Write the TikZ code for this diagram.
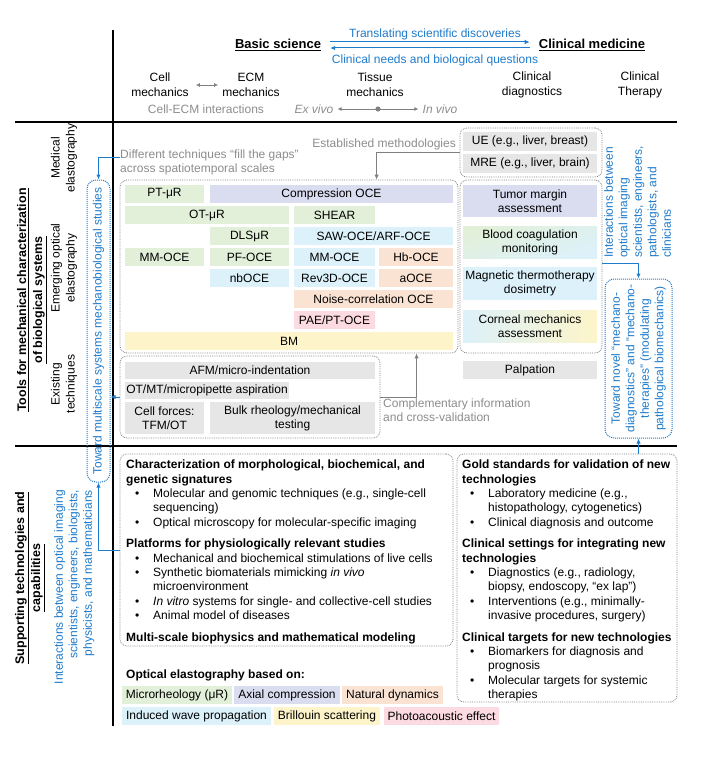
\documentclass[tikz,border=0pt]{standalone}
\usepackage{fontspec}
\setmainfont{Liberation Sans}
\usetikzlibrary{arrows.meta,calc}
\definecolor{cgreen}{HTML}{E2F0D9}
\definecolor{cpurple}{HTML}{DADCF0}
\definecolor{corange}{HTML}{FBE3D3}
\definecolor{cblue}{HTML}{DCF1FA}
\definecolor{cyellow}{HTML}{FDF5C9}
\definecolor{cpink}{HTML}{FBDAE2}
\definecolor{cgray}{HTML}{E6E6E6}
\definecolor{tblue}{HTML}{1F7BCB}
\definecolor{tgray}{HTML}{8C8C8C}
\definecolor{dgray}{HTML}{808080}
\newcommand\fs{\fontsize{12}{14}\selectfont}
\newcommand\cellnode[7]{\node[cellbox, fill=#6, minimum width={#4pt-#2pt}, minimum height={#5pt-#3pt}] (#1) at ({(#2+#4)/2},{(#3+#5)/2}) {#7};}
\newcommand\bl{\hspace*{9pt}\makebox[18pt][l]{•}}
\newcommand\cn{\hspace*{27pt}}
\newcommand\blr{\hspace*{8pt}\makebox[18pt][l]{•}}
\newcommand\cnr{\hspace*{26pt}}
\tikzset{
  every node/.style={font=\fs, inner sep=0pt},
  cellbox/.style={align=center, font=\fontsize{12}{14}\selectfont},
  lbl/.style={align=center, font=\fontsize{12}{15}\selectfont},
  hdr/.style={align=center, font=\fontsize{12.5}{16}\selectfont\bfseries},
  thdr/.style={font=\fontsize{13}{16}\selectfont\bfseries},
  btext/.style={text=tblue, align=center, font=\fontsize{12}{14.5}\selectfont},
  gtext/.style={text=tgray, align=left, font=\fontsize{12}{14}\selectfont},
  body/.style={align=left, font=\fontsize{12}{14.3}\selectfont},
  frame/.style={draw=dgray, densely dotted, line width=0.8pt, rounded corners=7pt},
  bframe/.style={draw=tblue, densely dotted, line width=1pt, rounded corners=9pt},
  barrow/.style={draw=tblue, line width=1pt, -{Latex[length=5pt,width=4.5pt]}},
  garrow/.style={draw=dgray, line width=1pt, -{Latex[length=5pt,width=4.5pt]}},
  gdarrow/.style={draw=dgray, line width=1pt, {Latex[length=4pt,width=4pt]}-{Latex[length=4pt,width=4pt]}},
}
\begin{document}
\begin{tikzpicture}[x=1pt,y=-1pt]
\useasboundingbox (0,0) rectangle (710,760);
% main rules
\draw[line width=1.2pt] (113,30) -- (113,726);
\draw[line width=1.2pt] (15,122) -- (677,122);
\draw[line width=1.2pt] (15,446) -- (677,446);
% header
\node[thdr] (basic) at (278,45) {\underline{Basic science}};
\node[thdr] (clinmed) at (592,45) {\underline{Clinical medicine}};
\draw[barrow] ([xshift=9pt,yshift=3pt]basic.east) -- ([xshift=-9pt,yshift=3pt]clinmed.west);
\draw[barrow] ([xshift=-9pt,yshift=-3pt]clinmed.west) -- ([xshift=9pt,yshift=-3pt]basic.east);
\node[btext] (transl) at (435,34) {Translating scientific discoveries};
\node[btext] (needs) at (435,60) {Clinical needs and biological questions};
\node[lbl] (cellm) at (160,85) {Cell\\mechanics};
\node[lbl] (ecm) at (251,85) {ECM\\mechanics};
\draw[gdarrow] ([xshift=7pt]cellm.east) -- ([xshift=-4pt]ecm.west);
\node[gtext] (cellecm) at (206,109) {Cell-ECM interactions};
\node[lbl] (tissue) at (375,85) {Tissue\\mechanics};
\node[gtext] (exvivo) at (314,109) {\textit{Ex vivo}};
\node[gtext] (invivo) at (440,109) {\textit{In vivo}};
\draw[gdarrow] ([xshift=4pt]exvivo.east) -- ([xshift=-4pt]invivo.west);
\fill[dgray] ($(exvivo.east)!0.5!(invivo.west)$) circle (2.6pt);
\node[lbl] (cdiag) at (532,85) {Clinical\\diagnostics};
\node[lbl] (cther) at (640,85) {Clinical\\Therapy};
% left labels
\node[hdr, rotate=90] (tools) at (32,300) {\underline{Tools for mechanical characterization}\\\underline{of biological systems}};
\node[lbl, rotate=90] (medel) at (64,158) {Medical\\elastography};
\node[lbl, rotate=90] (emel) at (64,268) {Emerging optical\\elastography};
\node[lbl, rotate=90] (exte) at (64,384) {Existing\\techniques};
\node[hdr, rotate=90] (supp) at (30,578) {\underline{Supporting technologies and}\\\underline{capabilities}};
\node[btext, rotate=90, align=right, anchor=north east] (interL) at (54,490) {Interactions between optical imaging\\scientists, engineers, biologists,\\physicists, and mathematicians};
% frames
\node[frame, minimum width=338pt, minimum height=173pt] (emerg) at (289,266.5) {};
\node[frame, minimum width=260pt, minimum height=82pt] (exist) at (250,397) {};
\node[frame, minimum width=142pt, minimum height=49pt] (uebox) at (531,152.5) {};
\node[frame, minimum width=142pt, minimum height=173pt] (clin) at (531,266.5) {};
\node[frame, minimum width=333pt, minimum height=192pt] (supL) at (286.5,550) {};
\node[frame, minimum width=220pt, minimum height=248pt] (gold) at (567,578) {};
% blue boxes
\node[bframe, rotate=90, minimum width=302pt, minimum height=23pt, text=tblue] (towardL) at (98.5,331) {Toward multiscale systems mechanobiological studies};
\node[bframe, rotate=90, minimum width=159pt, minimum height=67pt, align=center, text=tblue, font=\fontsize{12}{14.5}\selectfont] (novel) at (638.5,358.5) {Toward novel “mechano-\\diagnostics” and “mechano-\\therapies” (modulating\\pathological biomechanics)};
\node[btext, rotate=90, align=left, anchor=north west] (interR) at (604,258) {Interactions between\\optical imaging\\scientists, engineers,\\pathologists, and\\clinicians};
% gray texts
\node[gtext, anchor=east] (estab) at (456,144) {Established methodologies};
\node[gtext, anchor=north west] (diff) at (120,150) {Different techniques “fill the gaps”\\across spatiotemporal scales};
\node[gtext, anchor=north west] (compl) at (383,399) {Complementary information\\and cross-validation};
% emerging cells
\cellnode{ptur}{125}{185}{204}{203}{cgreen}{PT-μR}
\cellnode{comp}{210}{185}{453}{203}{cpurple}{Compression OCE}
\cellnode{otur}{125}{206}{289}{224}{cgreen}{OT-μR}
\cellnode{shear}{294}{206}{375}{224}{cgreen}{SHEAR}
\cellnode{dls}{210}{227}{289}{245}{cgreen}{DLSμR}
\cellnode{saw}{294}{227}{453}{245}{cblue}{SAW-OCE/ARF-OCE}
\cellnode{mmg}{125}{248}{204}{266}{cgreen}{MM-OCE}
\cellnode{pf}{210}{248}{289}{266}{cgreen}{PF-OCE}
\cellnode{mmb}{294}{248}{375}{266}{cblue}{MM-OCE}
\cellnode{hb}{379}{248}{453}{266}{corange}{Hb-OCE}
\cellnode{nb}{210}{269}{289}{287}{cblue}{nbOCE}
\cellnode{rev}{294}{269}{375}{287}{cblue}{Rev3D-OCE}
\cellnode{aoce}{379}{269}{453}{287}{corange}{aOCE}
\cellnode{noise}{294}{290}{453}{308}{corange}{Noise-correlation OCE}
\cellnode{pae}{294}{311}{375}{329}{cpink}{PAE/PT-OCE}
\cellnode{bm}{125}{332}{453}{350}{cyellow}{BM}
% existing cells
\cellnode{afm}{125}{362}{375}{379}{cgray}{AFM/micro-indentation}
\cellnode{otmt}{125}{382}{289}{399}{cgray}{OT/MT/micropipette aspiration}
\cellnode{cf}{125}{402}{204}{434}{cgray}{Cell forces:\\TFM/OT}
\cellnode{bulk}{210}{402}{375}{434}{cgray}{Bulk rheology/mechanical\\testing}
% clinical cells
\cellnode{ue}{463}{132}{597}{151}{cgray}{UE (e.g., liver, breast)}
\cellnode{mre}{463}{154}{597}{173}{cgray}{MRE (e.g., liver, brain)}
\cellnode{tumor}{463}{185}{597}{217}{cpurple}{Tumor margin\\assessment}
\node[cellbox, top color=cgreen, bottom color=cblue, shading angle=20, minimum width=134pt, minimum height=32pt] (blood) at (530,242) {Blood coagulation\\monitoring};
\cellnode{magn}{463}{267}{597}{300}{cblue}{Magnetic thermotherapy\\dosimetry}
\node[cellbox, left color=cblue, right color=cyellow, minimum width=134pt, minimum height=32pt] (corn) at (530,326) {Corneal mechanics\\assessment};
\cellnode{palp}{463}{361}{597}{379}{cgray}{Palpation}
% arrows
\draw[garrow] (uebox.west) -| ($(emerg.north west)+(257,0)$);
\draw[garrow] (exist.east) -| ($(emerg.south west)+(297,0)$);
\draw[barrow] ([yshift=-7pt]diff.north west) -| (towardL.east);
\draw[barrow] (exist.west) -- (exist.west -| towardL.south);
\draw[barrow] (supL.west) -| (towardL.west);
\draw[barrow] ([yshift=3pt]clin.east) -| (novel.east);
\draw[barrow] (gold.north -| novel.west) -- (novel.west);
% supporting texts
\node[body, anchor=north west] (suptext) at (126,460) {\textbf{Characterization of morphological, biochemical, and}\\
\textbf{genetic signatures}\\
\bl Molecular and genomic techniques (e.g., single-cell\\
\cn sequencing)\\
\bl Optical microscopy for molecular-specific imaging\\[7.5pt]
\textbf{Platforms for physiologically relevant studies}\\
\bl Mechanical and biochemical stimulations of live cells\\
\bl Synthetic biomaterials mimicking \textit{in vivo}\\
\cn microenvironment\\
\bl \textit{In vitro} systems for single- and collective-cell studies\\
\bl Animal model of diseases\\[7.5pt]
\textbf{Multi-scale biophysics and mathematical modeling}};
\node[body, anchor=north west] (goldtext) at (462,460) {\textbf{Gold standards for validation of new}\\
\textbf{technologies}\\
\blr Laboratory medicine (e.g.,\\
\cnr histopathology, cytogenetics)\\
\blr Clinical diagnosis and outcome\\[7.5pt]
\textbf{Clinical settings for integrating new}\\
\textbf{technologies}\\
\blr Diagnostics (e.g., radiology,\\
\cnr biopsy, endoscopy, “ex lap”)\\
\blr Interventions (e.g., minimally-\\
\cnr invasive procedures, surgery)\\[7.5pt]
\textbf{Clinical targets for new technologies}\\
\blr Biomarkers for diagnosis and\\
\cnr prognosis\\
\blr Molecular targets for systemic\\
\cnr therapies};
% legend
\node[anchor=west, font=\fs\bfseries] (legt) at (126,675) {Optical elastography based on:};
\cellnode{lg1}{122}{686}{232}{704}{cgreen}{Microrheology (μR)}
\cellnode{lg2}{234}{686}{340}{704}{cpurple}{Axial compression}
\cellnode{lg3}{342}{686}{443}{704}{corange}{Natural dynamics}
\cellnode{lg4}{122}{707}{271}{725}{cblue}{Induced wave propagation}
\cellnode{lg5}{274}{707}{380}{725}{cyellow}{Brillouin scattering}
\cellnode{lg6}{384}{707}{499}{725}{cpink}{Photoacoustic effect}
\end{tikzpicture}
\end{document}
